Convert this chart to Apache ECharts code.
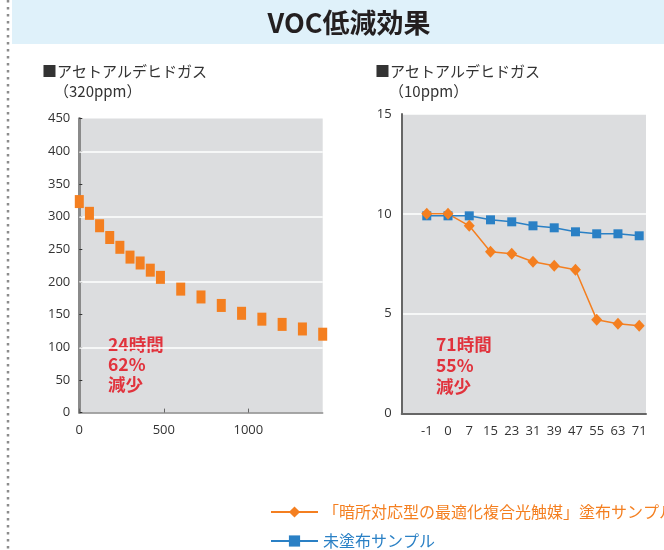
<!DOCTYPE html>
<html><head><meta charset="utf-8">
<script src="https://cdn.jsdelivr.net/npm/echarts@6/dist/echarts.min.js"></script>
<style>html,body{margin:0;padding:0;background:#fff}#c{width:664px;height:550px}</style>
</head><body><div id="c"></div>
<script>
// ---- data ----
const pageTitle = 'VOC低減効果';
const leftHeading = '■アセトアルデヒドガス';
const leftSub = '（320ppm）';
const rightHeading = '■アセトアルデヒドガス';
const rightSub = '（10ppm）';
const leftMinutes = [0, 60, 120, 180, 240, 300, 360, 420, 480, 600, 720, 840, 960, 1080, 1200, 1320, 1440];
const leftConc = [323, 305, 286, 268, 253, 238, 229, 218, 207, 189, 177, 164, 152, 143, 135, 128, 120];
const leftXTicks = [0, 500, 1000];
const leftGridLines = [100, 200, 300, 400];
const leftNote = ['24時間', '62%', '減少'];
const rightCategories = ['-1', '0', '7', '15', '23', '31', '39', '47', '55', '63', '71'];
const coatedValues = [10.0, 10.0, 9.4, 8.1, 8.0, 7.6, 7.4, 7.2, 4.7, 4.5, 4.4];
const uncoatedValues = [9.9, 9.9, 9.9, 9.7, 9.6, 9.4, 9.3, 9.1, 9.0, 9.0, 8.9];
const rightNote = ['71時間', '55%', '減少'];
const coatedName = '「暗所対応型の最適化複合光触媒」塗布サンプル';
const uncoatedName = '未塗布サンプル';

const ORANGE = '#f47f20';
const BLUE = '#2a80c5';
const RED = '#e1323c';
const BG = '#dcdddf';
const JP = '"Noto Sans CJK JP", sans-serif';
const NUM = '"Open Sans", "Noto Sans CJK JP", sans-serif';

const chart = echarts.init(document.getElementById('c'), null, {renderer: 'canvas'});

function textEl(x, y, text, font, fill, extra) {
  return {type: 'text', silent: true, style: Object.assign({x, y, text, font, fill, verticalAlign: 'middle', align: 'left'}, extra || {})};
}

const axisLabelStyle = {color: '#333', fontSize: 13, fontFamily: NUM};
const legendBase = {
  orient: 'vertical', left: 265, itemWidth: 47, itemHeight: 14,
  textStyle: {fontSize: 16, fontFamily: JP, color: 'inherit'},
  selectedMode: false
};

const option = {
  animation: false,
  backgroundColor: '#fff',
  graphic: [
    {type: 'rect', silent: true, z: -10, shape: {x: 12, y: 0, width: 652, height: 44}, style: {fill: '#dff1fa'}},
    {type: 'line', silent: true, shape: {x1: 8, y1: 0, x2: 8, y2: 550}, style: {stroke: '#8c8c8c', lineWidth: 2.5, lineDash: [2.5, 4.5]}},
    textEl(349, 23, pageTitle, 'bold 27px ' + JP, '#231f20', {align: 'center'}),
    textEl(42, 71, leftHeading, '15px ' + JP, '#333'),
    textEl(54, 91, leftSub, '15px ' + JP, '#333'),
    textEl(375, 71, rightHeading, '15px ' + JP, '#333'),
    textEl(389, 91, rightSub, '15px ' + JP, '#333'),
    textEl(108, 344, leftNote[0], 'bold 17.5px ' + JP, RED),
    textEl(108, 364, leftNote[1], 'bold 17.5px ' + JP, RED),
    textEl(108, 384, leftNote[2], 'bold 17.5px ' + JP, RED),
    textEl(436, 344, rightNote[0], 'bold 17.5px ' + JP, RED),
    textEl(436, 365, rightNote[1], 'bold 17.5px ' + JP, RED),
    textEl(436, 386, rightNote[2], 'bold 17.5px ' + JP, RED)
  ],
  legend: [
    Object.assign({top: 499, data: [coatedName]}, legendBase),
    Object.assign({top: 528, data: [uncoatedName]}, legendBase)
  ],
  grid: [
    {left: 79.3, top: 118.6, width: 243.4, height: 294, show: true, backgroundColor: BG, borderWidth: 0},
    {left: 401.7, top: 114, width: 244.3, height: 299.5, show: true, backgroundColor: BG, borderWidth: 0}
  ],
  xAxis: [
    {
      gridIndex: 0, type: 'value', min: 0, max: 1440,
      axisLine: {show: true, onZero: false, lineStyle: {color: '#8a8a8a', width: 1.5}},
      axisTick: {show: true, inside: true, length: 4, customValues: leftXTicks, lineStyle: {color: '#666'}},
      axisLabel: Object.assign({customValues: leftXTicks, formatter: v => String(v), margin: 11}, axisLabelStyle),
      splitLine: {show: false}
    },
    {
      gridIndex: 1, type: 'value', min: -1.18, max: 10.32,
      axisLine: {show: true, onZero: false, lineStyle: {color: '#666', width: 2}},
      axisTick: {show: false},
      axisLabel: Object.assign({
        customValues: rightCategories.map((_, i) => i),
        formatter: v => rightCategories[Math.round(v)],
        margin: 11
      }, axisLabelStyle),
      splitLine: {show: false}
    }
  ],
  yAxis: [
    {
      gridIndex: 0, type: 'value', min: 0, max: 450, interval: 50,
      axisLine: {show: true, onZero: false, lineStyle: {color: '#8a8a8a', width: 3}},
      axisTick: {show: true, inside: true, length: 3, lineStyle: {color: '#333'}},
      axisLabel: Object.assign({margin: 9}, axisLabelStyle),
      splitLine: {show: false}
    },
    {
      gridIndex: 1, type: 'value', min: 0, max: 15, interval: 5,
      axisLine: {show: true, onZero: false, lineStyle: {color: '#666', width: 2}},
      axisTick: {show: false},
      axisLabel: Object.assign({margin: 10}, axisLabelStyle),
      splitLine: {show: true, lineStyle: {color: '#ffffff', width: 1.5}}
    }
  ],
  series: [
    {
      name: 'left', type: 'scatter', xAxisIndex: 0, yAxisIndex: 0, z: 10,
      symbol: 'rect', symbolSize: [9, 13],
      itemStyle: {color: ORANGE, opacity: 1},
      data: leftMinutes.map((m, i) => [m, leftConc[i]]),
      markLine: {
        silent: true, symbol: ['none', 'none'], label: {show: false},
        lineStyle: {color: '#ffffff', width: 1.5, type: 'solid'},
        data: leftGridLines.map(v => ({yAxis: v}))
      }
    },
    {
      name: uncoatedName, type: 'line', xAxisIndex: 1, yAxisIndex: 1,
      symbol: 'rect', symbolSize: 9,
      itemStyle: {color: BLUE}, lineStyle: {color: BLUE, width: 1.5},
      data: uncoatedValues.map((v, i) => [i, v])
    },
    {
      name: coatedName, type: 'line', xAxisIndex: 1, yAxisIndex: 1,
      symbol: 'diamond', symbolSize: [11, 12],
      itemStyle: {color: ORANGE}, lineStyle: {color: ORANGE, width: 1.5},
      data: coatedValues.map((v, i) => [i, v])
    }
  ]
};
chart.setOption(option);
</script>
</body></html>
